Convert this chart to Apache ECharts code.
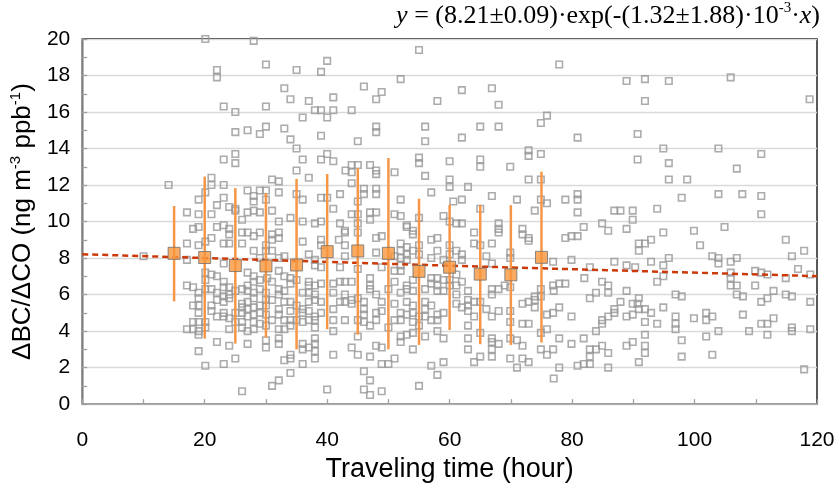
<!DOCTYPE html>
<html><head><meta charset="utf-8">
<script src="https://cdn.jsdelivr.net/npm/echarts@6/dist/echarts.min.js"></script>
<style>html,body{margin:0;padding:0;background:#fff}#c{width:838px;height:488px}</style>
</head><body><div id="c"></div>
<script>
// ---- data ----
const xTicks = [0, 20, 40, 60, 80, 100, 120];
const yTicks = [0, 2, 4, 6, 8, 10, 12, 14, 16, 18, 20];
const meanHours = [15, 20, 25, 30, 35, 40, 45, 50, 55, 60, 65, 70, 75];
const meanValues = [8.26, 8.03, 7.59, 7.57, 7.62, 8.35, 8.39, 8.26, 7.27, 7.5, 7.12, 7.08, 8.04];
const errUpper = [10.85, 12.46, 11.83, 11.56, 12.34, 12.6, 12.92, 13.48, 11.25, 10.92, 10.92, 10.9, 12.73];
const errLower = [5.63, 3.59, 3.31, 3.64, 3.0, 4.1, 3.8, 3.0, 3.24, 4.06, 3.28, 3.24, 3.37];
const fitHours = [0, 60, 120];
const fitValues = [8.21, 7.58, 7.01];

const pointsA = [[20.1,20.0],[28.0,19.9],[30.0,18.6],[22.0,18.3],[22.0,17.9],[23.1,16.3],[25.0,16.0],[30.0,16.3],[25.0,14.9],[27.0,15.0],[29.0,14.8],[30.0,15.2],[23.1,13.4],[25.0,13.7],[25.0,13.2],[14.1,12.0],[21.1,12.4],[21.1,12.0],[20.1,11.6],[23.1,12.0],[19.0,11.2],[23.1,11.3],[22.0,10.9],[27.0,11.7],[28.0,11.4],[29.0,11.7],[30.0,11.7],[28.0,11.1],[30.0,11.2],[24.0,10.8],[25.0,10.7],[25.0,10.6],[27.0,10.5],[28.0,10.6],[29.0,10.5],[17.1,10.5],[19.0,10.4],[21.1,10.4],
[26.1,10.1],[18.1,9.6],[19.0,9.7],[22.0,9.7],[23.1,9.8],[24.0,9.6],[24.0,9.3],[26.1,9.4],[27.0,9.4],[28.0,9.2],[29.0,9.4],[21.1,9.1],[20.1,8.9],[17.1,8.8],[19.0,8.7],[23.1,8.8],[24.0,8.8],[26.1,8.8],[28.0,8.4],[30.0,8.7],[30.0,8.4],[10.0,8.1],[17.1,7.9],[23.1,7.7],[29.0,8.0],[20.1,7.2],[21.1,7.1],[20.1,6.8],[22.0,7.0],[23.1,6.7],[27.0,7.2],[28.0,7.0],[29.0,6.8],[17.1,6.5],[18.1,6.4],[19.0,6.1],[20.1,6.3],[21.1,6.3],[22.0,6.1],[23.1,6.4],[23.1,5.9],[24.0,6.4],[24.0,6.0],[25.0,6.2],[26.1,6.3],[27.0,6.5],[27.0,6.2],[28.0,6.7],[28.0,6.1],[29.0,6.3],[30.0,6.1],[19.0,5.8],[22.0,5.7],[23.1,5.6],[24.0,5.8],[26.1,5.5],[27.0,5.6],[28.0,5.8],[30.0,5.7],[18.1,5.4],[19.0,5.4],[21.1,5.4],[26.1,5.3],[27.0,5.2],[28.0,5.3],[29.0,5.4],[30.0,5.4],[19.0,5.0],[21.1,5.1],[23.1,5.0],[25.0,5.0],[26.1,5.0],[27.0,4.8],[28.0,4.9],[29.0,5.0],[30.0,4.9],[22.0,4.8],[23.1,4.8],[24.0,4.7],[18.1,4.5],[19.0,4.5],[20.1,4.5],[25.0,4.5],[26.1,4.5],[28.0,4.5],[29.0,4.4],[17.1,4.1],[18.1,4.1],[19.0,4.0],[19.0,3.8],[20.1,4.2],[24.0,4.1],[26.1,4.2],[27.0,4.0],[28.0,4.1],[30.0,4.3],[22.0,3.4],[24.0,3.2],[27.0,3.3],[30.0,3.5],[30.0,3.1],[19.0,2.9],[25.0,2.5],[23.1,2.2],[20.1,2.1],[26.1,0.7]];

const pointsB = [[55.0,19.4],[40.0,18.8],[35.0,18.3],[39.0,18.2],[52.0,17.8],[33.0,17.3],[46.0,17.4],[48.9,17.1],[34.0,16.7],[37.0,16.6],[41.0,16.8],[48.0,16.7],[58.0,16.6],[38.0,16.1],[39.0,16.1],[41.0,16.1],[40.0,15.7],[36.0,15.7],[44.0,16.1],[33.0,15.1],[48.0,15.2],[48.0,14.9],[56.0,15.2],[34.0,14.5],[39.0,14.7],[45.0,14.4],[56.0,14.4],[35.0,14.0],[36.0,13.4],[39.0,13.4],[40.0,13.7],[41.0,13.3],[55.0,13.5],[55.0,13.2],[60.0,13.3],[43.0,12.8],[44.0,13.1],[44.0,12.7],[45.0,13.1],[47.0,13.1],[48.0,12.8],[48.0,12.6],[51.0,12.7],[35.0,12.8],[37.0,12.4],[56.0,12.5],[60.0,12.3],[60.0,11.9],[31.0,12.3],[32.1,12.2],[44.0,12.1],[46.0,11.8],[46.0,11.5],[48.0,11.8],[48.0,11.5],[57.0,11.6],[32.1,11.6],[35.0,11.5],[42.1,11.5],[36.0,11.2],[39.0,11.3],[40.0,11.3],[45.0,11.1],[52.0,11.2],[41.0,10.7],[31.0,10.6],[34.0,10.2],[44.0,10.4],[45.0,10.4],[47.0,10.5],[48.0,10.5],[51.0,10.4],[52.0,10.3],[55.0,10.2],[59.0,10.3],[60.6,11.1]];

const pointsC = [[32.1,10.0],[36.0,10.0],[38.0,9.9],[39.0,10.0],[42.1,9.9],[45.0,9.9],[47.0,10.1],[53.0,9.8],[60.0,10.0],[32.1,9.4],[42.9,9.5],[42.9,9.4],[45.0,9.4],[54.0,9.5],[54.0,9.3],[53.0,9.7],[48.0,9.1],[48.9,9.2],[57.0,9.0],[58.0,9.1],[31.0,9.3],[31.0,9.0],[32.1,9.1],[36.0,8.9],[39.0,9.0],[39.0,8.7],[41.9,9.0],[42.9,8.7],[31.0,8.4],[52.0,8.8],[52.0,8.4],[53.0,8.6],[54.0,8.4],[53.0,8.2],[55.0,8.7],[55.0,8.2],[58.0,8.4],[60.0,8.7],[60.0,8.2],[32.1,8.0],[33.0,8.1],[37.0,8.2],[38.0,7.9],[38.0,7.6],[42.9,8.1],[48.0,8.3],[51.0,8.1],[52.0,8.0],[52.0,7.6],[53.0,7.9],[57.0,8.0],[59.0,7.9],[48.9,7.5],[51.0,7.3],[52.0,7.3],[45.0,7.4],[42.1,7.5],[39.0,7.5],[32.1,7.3],[30.2,6.9],[31.0,6.7],[33.0,7.0],[34.0,6.6],[34.0,6.9],[35.0,6.8],[37.0,6.7],[37.0,6.5],[38.0,6.5],[39.0,6.6],[41.0,6.6],[42.1,6.7],[42.9,6.7],[44.0,6.7],[47.0,6.9],[47.0,6.5],[47.0,6.3],[51.0,6.7],[54.0,6.8],[57.0,6.9],[57.0,6.6],[58.0,6.9],[58.0,6.5],[59.0,6.8],[60.0,6.8],[60.0,6.5],[53.0,6.5],[53.0,6.3],[54.0,6.2],[56.0,6.3],[58.0,6.2],[59.0,6.2],[32.1,6.3],[32.1,6.0],[33.0,6.2],[36.0,6.1],[37.0,6.1],[38.0,6.0],[41.0,6.1],[42.9,6.0],[44.0,5.7],[45.0,5.8],[48.0,6.0],[52.0,6.1],[50.0,6.3],[31.0,5.7],[33.0,5.6],[34.0,5.6],[35.0,5.4],[37.0,5.6],[38.0,5.7],[39.0,5.6],[42.1,5.6],[42.9,5.6],[44.0,5.5],[46.0,5.6],[48.9,5.6],[51.0,5.5],[53.0,5.6],[54.0,5.4],[56.0,5.6],[56.0,5.2],[57.0,5.4],[59.0,5.0],[32.1,5.2],[32.1,4.9],[34.0,5.1],[36.0,5.2],[36.0,5.0],[37.0,5.1],[37.0,4.6],[38.0,4.8],[39.0,5.0],[41.0,5.2],[41.0,4.6],[46.0,5.2],[46.0,4.9],[48.0,5.0],[48.9,5.1],[52.0,5.0],[52.0,4.6],[53.0,4.9],[54.0,5.0],[55.0,4.8],[56.0,4.8],[57.0,4.6],[58.0,4.9],[58.0,4.6],[31.0,4.6],[33.0,4.6],[34.0,4.6],[35.0,4.6],[36.0,4.5],[38.0,4.2],[38.0,4.6],[42.9,4.6],[45.0,4.6],[46.0,4.5],[47.0,4.3],[48.0,4.6],[51.0,4.6],[54.0,4.5],[55.0,4.3],[32.1,4.1],[33.0,4.1],[34.0,4.3],[41.0,4.0],[45.0,3.7],[50.0,4.2],[52.0,3.7],[53.0,3.8],[54.0,3.9],[56.0,3.7],[58.0,4.0],[59.0,3.6],[32.1,3.6],[32.1,3.3],[36.0,3.3],[36.0,3.0],[37.0,3.1],[38.0,3.6],[38.0,3.3],[38.0,2.9],[38.0,2.5],[44.0,3.1],[48.0,3.2],[48.9,3.1],[52.0,3.4],[54.0,3.0],[34.0,2.7],[34.0,2.5],[33.0,2.4],[36.0,2.2],[41.0,2.7],[45.0,2.7],[47.0,2.6],[51.0,2.5],[50.0,2.2],[48.9,2.2],[34.0,1.7],[46.0,1.8],[47.0,1.3],[32.1,1.3],[31.0,1.0],[40.0,0.8],[46.0,0.8],[47.0,0.5],[48.9,0.7],[55.0,1.0],[57.0,2.1],[58.0,1.6],[59.0,2.3]];

const pointsD = [[77.9,18.6],[88.9,17.7],[62.0,17.2],[66.9,17.3],[68.0,16.4],[74.9,15.4],[75.9,15.8],[65.0,15.2],[68.0,15.2],[62.0,14.6],[80.9,14.6],[90.7,14.8],[65.0,13.4],[65.0,13.0],[69.9,13.0],[72.9,13.9],[72.9,13.6],[74.9,13.7],[90.7,13.4],[72.9,12.3],[74.9,12.3],[63.0,11.9],[62.0,11.2],[66.9,11.4],[71.0,11.2],[74.9,11.2],[75.9,11.0],[78.9,11.2],[80.9,11.5],[80.9,11.2],[65.0,10.7],[73.9,10.6],[80.9,10.5],[86.9,10.6],[87.9,10.6],[89.9,10.6]];

const pointsE = [[61.1,9.9],[62.0,9.9],[68.0,9.9],[68.0,9.6],[68.0,9.4],[64.0,9.4],[71.9,9.6],[71.9,9.3],[72.9,9.1],[72.9,8.95],[78.9,9.1],[79.9,9.2],[80.9,9.2],[81.9,9.7],[84.9,9.9],[85.9,9.5],[88.9,9.6],[89.9,10.1],[64.0,8.8],[65.0,8.7],[66.9,8.8],[66.9,7.7],[61.1,8.4],[62.0,8.2],[62.0,7.9],[66.0,8.1],[69.9,8.3],[69.9,8.0],[76.9,7.8],[79.9,7.9],[82.9,7.5],[86.9,7.8],[88.9,7.6],[90.3,7.5],[82.0,6.9],[84.9,6.7],[61.1,7.1],[62.0,6.7],[61.1,6.5],[61.1,6.0],[63.0,6.2],[66.9,6.3],[68.0,6.3],[69.0,6.5],[69.9,6.4],[74.9,6.3],[76.9,6.5],[77.9,6.6],[78.9,6.6],[77.0,6.2],[85.9,6.5],[85.9,6.1],[88.9,6.2],[83.9,6.1],[82.9,5.8],[61.1,5.5],[63.0,5.7],[63.0,5.4],[64.0,5.6],[65.0,5.6],[66.9,6.0],[73.9,5.9],[74.9,5.9],[72.9,5.6],[73.9,5.7],[71.9,5.5],[73.9,5.3],[87.9,5.6],[89.9,5.5],[90.7,5.5],[62.0,5.3],[63.0,5.1],[64.0,4.8],[66.0,5.2],[66.9,4.8],[68.0,5.1],[69.9,5.1],[69.9,4.5],[75.9,4.9],[76.9,5.0],[77.9,5.3],[79.9,4.8],[84.9,4.6],[85.9,4.8],[86.9,5.2],[86.9,5.0],[88.9,4.8],[89.9,4.9],[71.9,4.4],[72.9,4.4],[63.0,4.3],[75.9,4.1],[83.9,4.0],[84.9,4.4],[74.9,3.9],[65.0,3.9],[63.0,3.6],[66.9,3.6],[66.9,3.4],[68.0,3.3],[69.9,3.6],[71.0,3.5],[71.9,3.2],[77.9,3.6],[79.9,3.3],[81.9,3.6],[89.9,3.4],[88.9,3.2],[84.9,3.2],[82.9,3.0],[83.9,3.0],[85.9,2.8],[63.0,3.0],[66.9,3.0],[66.9,2.6],[65.0,2.6],[64.0,2.3],[69.9,2.5],[71.9,2.5],[72.9,2.3],[74.9,3.0],[75.9,2.7],[76.9,3.0],[71.0,2.0],[77.9,2.0],[80.9,2.1],[81.9,2.2],[82.9,2.2],[82.9,2.6],[85.9,2.0],[77.0,1.4]];

const pointsF = [[91.9,17.8],[95.8,17.7],[105.9,17.9],[91.9,16.6],[118.8,16.7],[94.9,14.0],[103.9,14.0],[110.9,13.7],[95.8,13.2],[106.9,12.9],[95.8,12.3],[98.8,12.3],[97.9,11.3],[103.9,11.5],[107.8,11.5],[110.9,11.4],[93.9,10.7],[110.9,10.4],
[94.9,9.4],[99.9,9.5],[104.9,9.7],[90.9,8.8],[91.9,8.8],[92.9,9.0],[90.9,8.4],[100.9,8.7],[114.9,9.0],[117.9,8.4],[115.9,8.1],[92.9,7.8],[95.8,8.0],[94.9,7.6],[102.9,8.1],[103.9,8.0],[103.9,7.7],[105.9,7.8],[106.9,8.0],[116.9,7.4],[94.9,7.0],[93.9,6.7],[105.9,7.2],[105.9,6.9],[105.9,6.5],[106.9,6.5],[109.9,7.3],[109.9,6.5],[110.9,7.2],[111.9,7.1],[114.9,6.9],[118.9,7.1],[90.9,5.8],[96.9,6.0],[97.9,5.9],[106.9,6.0],[107.9,5.9],[112.9,6.2],[114.9,6.0],[115.9,5.9],[110.9,5.6],[111.9,5.8],[118.9,5.6],[90.9,5.2],[91.9,5.2],[92.9,5.0],[94.9,5.3],[91.9,4.5],[93.9,4.4],[96.9,4.8],[96.9,4.4],[96.9,4.1],[99.9,4.7],[101.9,5.0],[101.9,4.6],[102.9,4.8],[107.9,4.9],[110.9,4.4],[111.9,4.4],[112.9,4.7],[91.9,3.8],[91.9,3.2],[91.9,2.8],[97.9,3.5],[97.9,2.6],[101.9,3.7],[103.9,4.0],[108.9,4.0],[111.9,3.8],[115.9,4.2],[115.9,4.0],[118.9,4.1],[102.9,2.7],[90.9,2.3],[117.9,1.9]];

// ---- chart ----
const scatterData = [].concat(pointsA, pointsB, pointsC, pointsD, pointsE, pointsF);
const meanData = meanHours.map((h, i) => [h, meanValues[i]]);
const errData = meanHours.map((h, i) => [h, errLower[i], errUpper[i]]);
const fitData = fitHours.map((h, i) => [h, fitValues[i]]);

const chart = echarts.init(document.getElementById('c'), null, {renderer: 'canvas'});
const FONT = 'Liberation Sans, Arial, sans-serif';
const SERIF = 'Liberation Serif, Times New Roman, serif';
chart.setOption({
  animation: false,
  backgroundColor: '#fff',
  grid: {left: 82, right: 21, top: 39, bottom: 81, show: true, borderColor: '#000', borderWidth: 1.3},
  xAxis: {
    type: 'value', min: xTicks[0], max: xTicks[xTicks.length - 1], interval: 20,
    axisLine: {show: true, onZero: false, lineStyle: {color: '#a0a0a0', width: 1.5}},
    axisTick: {show: true, inside: true, length: 5, lineStyle: {color: '#a0a0a0', width: 1.3}},
    minorTick: {show: true, splitNumber: 2, length: 5, lineStyle: {color: '#a0a0a0', width: 1.3}},
    splitLine: {show: false},
    axisLabel: {fontSize: 21, color: '#000', fontFamily: FONT, margin: 26},
    name: 'Traveling time (hour)', nameLocation: 'middle', nameGap: 48,
    nameTextStyle: {fontSize: 27, color: '#000', fontFamily: FONT}
  },
  yAxis: {
    type: 'value', min: yTicks[0], max: yTicks[yTicks.length - 1], interval: 2,
    axisLine: {show: true, onZero: false, lineStyle: {color: '#a0a0a0', width: 1.5}},
    axisTick: {show: true, inside: true, length: 5, lineStyle: {color: '#a0a0a0', width: 1.3}},
    minorTick: {show: true, splitNumber: 2, length: 5, lineStyle: {color: '#a0a0a0', width: 1.3}},
    splitLine: {show: true, lineStyle: {color: '#d9d9d9', width: 1.3}},
    axisLabel: {fontSize: 21, color: '#000', fontFamily: FONT, margin: 12},
    name: '{n|ΔBC/ΔCO (ng m}{s|-3}{n| ppb}{s|-1}{n|)}', nameLocation: 'middle', nameGap: 44, nameRotate: 90,
    nameTextStyle: {
      color: '#000', fontFamily: FONT, fontSize: 26,
      rich: {
        n: {fontSize: 26, fontFamily: FONT, color: '#000', lineHeight: 30},
        s: {fontSize: 15, fontFamily: FONT, color: '#000', lineHeight: 16, verticalAlign: 'top'}
      }
    }
  },
  graphic: [{
    type: 'text', right: 18, top: 1, z: 100,
    style: {
      text: '{i|y}{n| = (8.21±0.09)·exp(-(1.32±1.88)·10}{s|-3}{n|·}{i|x}{n|)}',
      rich: {
        n: {fontSize: 26, fontFamily: SERIF, fill: '#000', lineHeight: 30},
        i: {fontSize: 26, fontFamily: SERIF, fontStyle: 'italic', fill: '#000', lineHeight: 30},
        s: {fontSize: 15, fontFamily: SERIF, fill: '#000', lineHeight: 16, verticalAlign: 'top'}
      }
    }
  }],
  series: [
    {
      type: 'scatter', data: scatterData, symbol: 'rect', symbolSize: 6.5, z: 2,
      itemStyle: {color: 'rgba(255,255,255,0)', borderColor: '#979797', borderWidth: 1.6},
      emphasis: {disabled: true}, silent: true
    },
    {
      type: 'line', data: fitData, showSymbol: false, z: 3, smooth: false,
      lineStyle: {color: '#cc3a0a', width: 2.5, type: [6, 4]}, silent: true
    },
    {
      type: 'custom', data: errData, z: 4, silent: true,
      renderItem: function (params, api) {
        const top = api.coord([api.value(0), api.value(2)]);
        const bot = api.coord([api.value(0), api.value(1)]);
        return {type: 'line', shape: {x1: top[0], y1: top[1], x2: bot[0], y2: bot[1]},
          style: {stroke: '#f79646', lineWidth: 2.5}};
      }
    },
    {
      type: 'scatter', data: meanData, symbol: 'rect', symbolSize: 12, z: 5, silent: true,
      itemStyle: {color: '#f7963c', borderColor: '#6f6f6f', borderWidth: 1}
    }
  ]
});
</script>
</body></html>
